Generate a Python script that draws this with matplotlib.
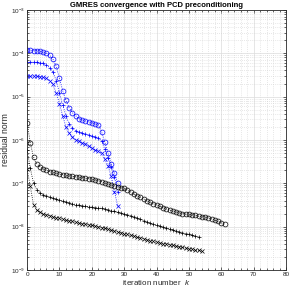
import numpy as np
import matplotlib
matplotlib.use('Agg')
import matplotlib.pyplot as plt
from matplotlib.ticker import MultipleLocator, LogLocator, NullFormatter

plt.rcParams['font.family'] = ['Liberation Sans', 'DejaVu Sans']
plt.rcParams['mathtext.fontset'] = 'custom'
plt.rcParams['mathtext.rm'] = 'Liberation Sans'
plt.rcParams['mathtext.it'] = 'Liberation Sans:italic'

# log10 of residual norms
blue_o = [-3.93, -3.93, -3.94, -3.94, -3.95, -3.98, -4.00, -4.05, -4.14, -4.30,
          -4.58, -4.86, -5.09, -5.26, -5.37, -5.44, -5.51, -5.53, -5.56, -5.58,
          -5.60, -5.63, -5.65, -5.81, -6.05, -6.30, -6.56, -6.77, -7.00]
blue_p = [-4.21, -4.21, -4.21, -4.21, -4.22, -4.23, -4.28, -4.33, -4.44, -4.63,
          -4.91, -5.19, -5.44, -5.63, -5.72, -5.79, -5.81, -5.84, -5.86, -5.88,
          -5.91, -5.93, -5.95, -6.02, -6.21, -6.42, -6.63, -6.86, -7.19]
blue_x = [-4.53, -4.53, -4.53, -4.53, -4.54, -4.56, -4.58, -4.63, -4.72, -4.91,
          -5.16, -5.44, -5.70, -5.84, -5.93, -6.00, -6.02, -6.07, -6.09, -6.14,
          -6.19, -6.23, -6.26, -6.30, -6.44, -6.60, -6.84, -7.19, -7.53]

black_o = [-5.60, -6.07, -6.40, -6.55, -6.62, -6.67, -6.70, -6.73, -6.75, -6.77,
           -6.79, -6.80, -6.82, -6.83, -6.84, -6.85, -6.86, -6.87, -6.88, -6.89,
           -6.91, -6.92, -6.94, -6.96, -6.99, -7.02, -7.04, -7.06, -7.08, -7.10,
           -7.12, -7.16, -7.20, -7.25, -7.29, -7.32, -7.36, -7.40, -7.44, -7.47,
           -7.50, -7.53, -7.56, -7.59, -7.62, -7.64, -7.66, -7.68, -7.70, -7.71,
           -7.72, -7.73, -7.74, -7.76, -7.77, -7.78, -7.80, -7.82, -7.85, -7.88,
           -7.91, -7.95]
black_p = [-6.23, -6.65, -7.00, -7.15, -7.22, -7.26, -7.29, -7.32, -7.35, -7.37,
           -7.39, -7.41, -7.43, -7.45, -7.47, -7.49, -7.50, -7.52, -7.53, -7.54,
           -7.55, -7.56, -7.57, -7.58, -7.59, -7.61, -7.63, -7.65, -7.67, -7.69,
           -7.71, -7.73, -7.75, -7.77, -7.80, -7.83, -7.86, -7.89, -7.92, -7.95,
           -7.97, -7.99, -8.01, -8.03, -8.05, -8.07, -8.10, -8.12, -8.14, -8.16,
           -8.18, -8.20, -8.22, -8.24]
black_x = [-6.67, -7.07, -7.50, -7.62, -7.67, -7.70, -7.73, -7.75, -7.77, -7.79,
           -7.81, -7.83, -7.85, -7.86, -7.88, -7.90, -7.91, -7.93, -7.94, -7.96,
           -7.97, -7.99, -8.00, -8.02, -8.04, -8.06, -8.08, -8.10, -8.12, -8.14,
           -8.16, -8.18, -8.20, -8.22, -8.24, -8.26, -8.28, -8.30, -8.32, -8.34,
           -8.36, -8.37, -8.39, -8.40, -8.42, -8.43, -8.45, -8.46, -8.48, -8.49,
           -8.51, -8.52, -8.54, -8.55, -8.57]

series = [
    (blue_o, 'o', 'b'), (blue_p, '+', 'b'), (blue_x, 'x', 'b'),
    (black_o, 'o', 'k'), (black_p, '+', 'k'), (black_x, 'x', 'k'),
]

txt = '#262626'
fig = plt.figure(figsize=(2.91, 2.90), dpi=100)
ax = fig.add_axes([0.093, 0.069, 0.890, 0.897])

for vals, mk, col in series:
    k = np.arange(len(vals))
    r = 10.0 ** np.array(vals)
    ax.semilogy(k, r, linestyle=':', color=col, lw=0.6,
                marker=mk, ms=3.5 if mk == 'o' else 3.1, mew=0.5,
                mfc='none', mec=col)

ax.set_xlim(0, 80)
ax.set_ylim(1e-9, 1e-3)
ax.xaxis.set_major_locator(MultipleLocator(10))
ax.xaxis.set_minor_locator(MultipleLocator(2))
ax.yaxis.set_major_locator(LogLocator(base=10, numticks=10))
ax.yaxis.set_minor_locator(LogLocator(base=10, subs=np.arange(2, 10), numticks=20))
ax.yaxis.set_minor_formatter(NullFormatter())

ax.grid(True, which='major', color='#dcdcdc', lw=0.5, ls='-')
ax.grid(True, which='minor', color='#d0d0d0', lw=0.5, ls=(0, (1, 2)))
ax.set_axisbelow(True)

ax.tick_params(which='both', direction='in', top=True, right=True,
               labelsize=4.6, colors=txt, width=0.5, pad=1.5)
ax.tick_params(which='major', length=2.5)
ax.tick_params(which='minor', length=1.3)
for s in ax.spines.values():
    s.set_linewidth(0.6)
    s.set_color(txt)

ax.set_title('GMRES convergence with PCD preconditioning',
             fontsize=5.5, fontweight='bold', color='black', pad=2)
ax.set_xlabel('iteration number  $k$', fontsize=5.8, color=txt, labelpad=0.5)
ax.set_ylabel('residual norm', fontsize=6.2, color=txt, labelpad=0.5)

fig.savefig('out.png', dpi=100)
